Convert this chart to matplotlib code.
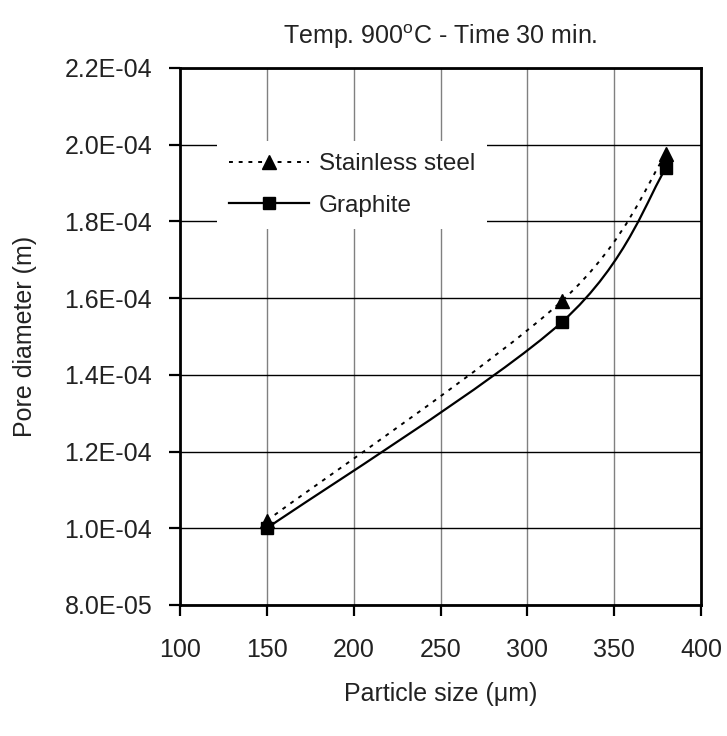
import matplotlib
matplotlib.use("Agg")
import matplotlib.pyplot as plt
from matplotlib.path import Path
from matplotlib.patches import PathPatch
from matplotlib.lines import Line2D
from matplotlib.ticker import FuncFormatter, MultipleLocator
import numpy as np

plt.rcParams['font.family'] = ['Liberation Sans', 'DejaVu Sans']
plt.rcParams['mathtext.fontset'] = 'custom'
plt.rcParams['mathtext.rm'] = 'Liberation Sans'

# ---- data ----
particle_size = [150, 320, 380]
stainless = [1.02e-4, 1.593e-4, 1.977e-4]
graphite = [1.00e-4, 1.538e-4, 1.94e-4]
series_names = ["Stainless steel", "Graphite"]
title = "Temp. 900$^{\\mathrm{o}}$C - Time 30 min."
xlabel = "Particle size (μm)"
ylabel = "Pore diameter (m)"


def smooth_path(xs, ys):
    """Excel-style smoothed line as cubic Bezier path (data coords)."""
    pts = np.column_stack([xs, ys]).astype(float)
    n = len(pts)
    verts = [pts[0]]
    codes = [Path.MOVETO]
    for i in range(n - 1):
        p_prev = pts[i - 1] if i > 0 else pts[i]
        p0 = pts[i]
        p1 = pts[i + 1]
        p_next = pts[i + 2] if i + 2 < n else pts[i + 1]
        c1 = p0 + (p1 - p_prev) / 6.0
        c2 = p1 - (p_next - p0) / 6.0
        verts += [c1, c2, p1]
        codes += [Path.CURVE4] * 3
    return Path(verts, codes)


fig = plt.figure(figsize=(7.27, 7.36), dpi=100)
ax = fig.add_axes([180 / 727, 1 - 605 / 736, (701 - 180) / 727, (605 - 68) / 736])

ax.set_xlim(100, 400)
ax.set_ylim(8e-5, 2.2e-4)
ax.xaxis.set_major_locator(MultipleLocator(50))
ax.yaxis.set_major_locator(MultipleLocator(2e-5))
ax.yaxis.set_major_formatter(FuncFormatter(lambda v, p: "%.1E" % v))

# grid
ax.grid(axis='y', color='black', lw=1.0, zorder=0)
ax.grid(axis='x', color='#808080', lw=1.0, zorder=0)
ax.set_axisbelow(True)

ss_dash = (0, (2.0, 3.0))
ax.add_patch(PathPatch(smooth_path(particle_size, stainless), fill=False,
                       edgecolor='black', lw=1.4, linestyle=ss_dash, zorder=3))
ax.add_patch(PathPatch(smooth_path(particle_size, graphite), fill=False,
                       edgecolor='black', lw=1.6, zorder=3))
ax.plot(particle_size, stainless, linestyle='none', marker='^', ms=10.5,
        color='black', zorder=4)
ax.plot(particle_size, graphite, linestyle='none', marker='s', ms=9,
        color='black', zorder=4)

for s in ax.spines.values():
    s.set_linewidth(2.0)
    s.set_color('black')

txt_color = '#222222'
ax.tick_params(axis='both', direction='out', length=8, width=1.6,
               labelsize=18, colors='black')
ax.tick_params(axis='x', pad=16)
ax.tick_params(axis='y', pad=12)
for lab in ax.get_xticklabels() + ax.get_yticklabels():
    lab.set_color(txt_color)

ax.set_title(title, fontsize=18, pad=17, color=txt_color)
ax.set_xlabel(xlabel, fontsize=18, labelpad=14, color=txt_color)
ax.set_ylabel(ylabel, fontsize=18, labelpad=20, color=txt_color)

handles = [
    Line2D([], [], color='black', lw=1.4, linestyle=ss_dash, marker='^', ms=10.5),
    Line2D([], [], color='black', lw=1.6, marker='s', ms=9),
]
leg = ax.legend(handles, series_names, loc='upper left',
                bbox_to_anchor=(217 / 727, 1 - 141 / 736),
                bbox_transform=fig.transFigure, fontsize=17.5,
                frameon=True, fancybox=False, framealpha=1.0,
                facecolor='white', edgecolor='none', borderaxespad=0,
                borderpad=0.5, handlelength=3.3, handletextpad=0.4,
                labelspacing=0.8)
for t in leg.get_texts():
    t.set_color(txt_color)

fig.savefig("out.png", dpi=100)
